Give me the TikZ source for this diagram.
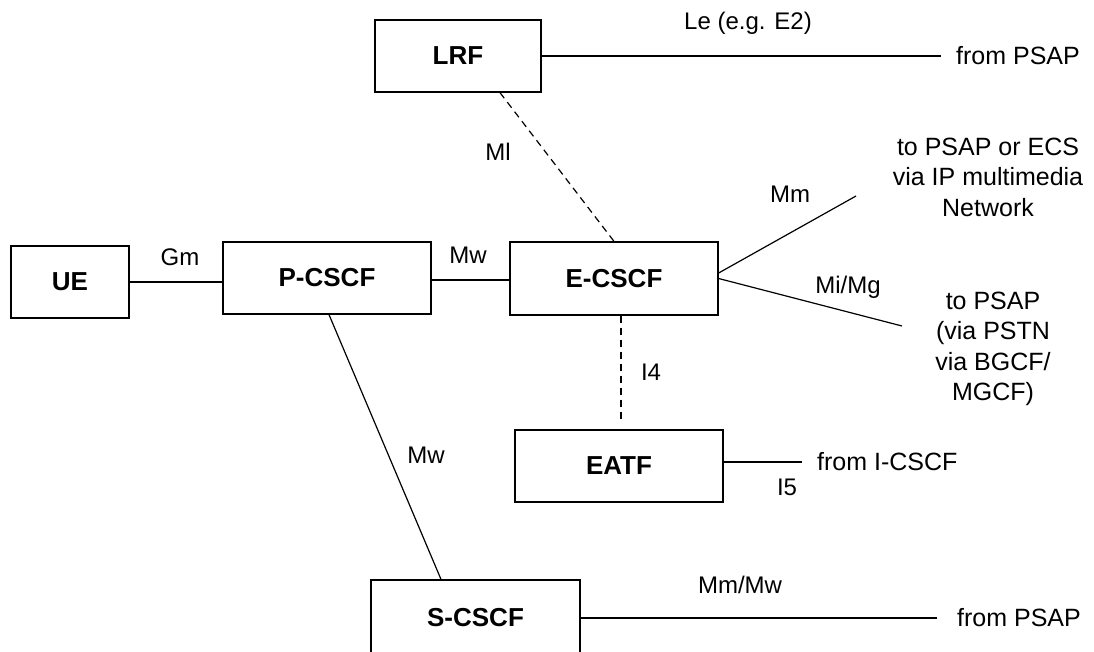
\documentclass[tikz,border=0pt]{standalone}
\usepackage{fontspec}
\setmainfont{Liberation Sans}
\begin{document}
\begin{tikzpicture}[x=1pt,y=-1pt,
  box/.style={draw,line width=1.3pt,minimum height=72pt,inner sep=0pt,font=\fontsize{26}{30}\selectfont\bfseries},
  lbl/.style={inner sep=0pt,font=\fontsize{24}{30}\selectfont},
  far/.style={inner sep=0pt,anchor=west,font=\fontsize{25}{30.5}\selectfont,align=center},
  link/.style={line width=1.2pt},
  dlink/.style={line width=1.2pt,dash pattern=on 7pt off 5pt}]
\useasboundingbox (0,0) rectangle (1094,651);
\fill[white] (0,0) rectangle (1094,651);
% boxes
\node[box,minimum width=166pt] (lrf) at (458,56) {LRF};
\node[box,minimum width=118pt] (ue) at (70,282) {UE};
\node[box,minimum width=208pt] (pcscf) at (327,278) {P-CSCF};
\node[box,minimum width=208pt,minimum height=73pt] (ecscf) at (614,278.5) {E-CSCF};
\node[box,minimum width=208pt] (eatf) at (619,466) {EATF};
\node[box,minimum width=209pt,minimum height=75pt] (scscf) at (475.5,617.5) {S-CSCF};
% far-end texts
\node[far] (psap1) at (956,56) {from PSAP};
\node[far,anchor=center] (ipnet) at (988,177) {to PSAP or ECS\\via IP multimedia\\Network};
\node[far,anchor=center] (pstn) at (993,349) {to PSAP\\(via PSTN\\via BGCF/\\MGCF)};
\node[far] (icscf) at (817,462) {from I-CSCF};
\node[far] (psap2) at (957,618) {from PSAP};
% free ends
\coordinate (lrfend) at (941,56);
\coordinate (mmend) at (856,196);
\coordinate (mmstart) at (718,273);
\coordinate (miend) at (902,326);
\coordinate (i4end) at (621,421);
\coordinate (i5end) at (802,462);
\coordinate (scend) at (937,618);
\coordinate (mwy) at (0,280);
% connectors
\draw[link] (lrf.east) -- (lrfend);
\draw[dlink] ([xshift=42pt]lrf.south) -- (ecscf.north);
\draw[link] (ue.east) -- (ue.east -| pcscf.west);
\draw[link] (pcscf.east |- mwy) -- (ecscf.west |- mwy);
\draw[link] (ecscf.east |- mmstart) -- (mmend);
\draw[link] (ecscf.east) -- (miend);
\draw[dlink] ([xshift=7pt]ecscf.south) -- (i4end);
\draw[link] (eatf.east |- i5end) -- (i5end);
\draw[link] ([xshift=2pt]pcscf.south) -- ([xshift=-34.5pt]scscf.north);
\draw[link] (scscf.east |- scend) -- (scend);
% interface labels
\node[lbl] (le) at (748,23) {Le (e.g. E2)};
\node[lbl] (ml) at (498,152) {Ml};
\node[lbl] (gm) at (180,257) {Gm};
\node[lbl] (mw1) at (468,255) {Mw};
\node[lbl] (mm) at (790,194) {Mm};
\node[lbl] (mimg) at (848,287) {Mi/Mg};
\node[lbl] (i4) at (651,372) {I4};
\node[lbl] (i5) at (787,487) {I5};
\node[lbl] (mw2) at (426,455) {Mw};
\node[lbl] (mmmw) at (740,585) {Mm/Mw};
\end{tikzpicture}
\end{document}
